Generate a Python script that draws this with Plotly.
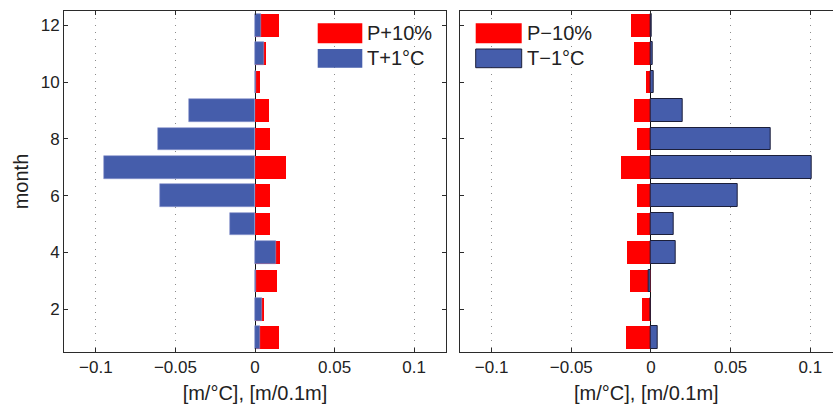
import plotly.graph_objects as go

months = [1, 2, 3, 4, 5, 6, 7, 8, 9, 10, 11, 12]

# Left panel: P+10% and T+1°C
p_plus = [0.0152, 0.0056, 0.0139, 0.0156, 0.0096, 0.0097, 0.0193, 0.0096, 0.0087, 0.0030, 0.0071, 0.0148]
t_plus = [0.0033, 0.0041, 0.0009, 0.0129, -0.0159, -0.0594, -0.0948, -0.0610, -0.0415, 0.0005, 0.0054, 0.0037]

# Right panel: P-10% and T-1°C
p_minus = [-0.0161, -0.0056, -0.0136, -0.0155, -0.0088, -0.0092, -0.0188, -0.0092, -0.0111, -0.0036, -0.0111, -0.0130]
t_minus = [0.0041, -0.0004, -0.0015, 0.0157, 0.0144, 0.0545, 0.1010, 0.0750, 0.0196, 0.0019, 0.0012, 0.0005]

xtick_vals = [-0.1, -0.05, 0, 0.05, 0.1]
xtick_text = ["\u22120.1", "\u22120.05", "0", "0.05", "0.1"]
ytick_vals = [2, 4, 6, 8, 10, 12]

RED = "#ff0000"
BLUE = "#455dab"
EDGE = "#1c1f3a"
AX = "#2b2b2b"
FONT = "Liberation Sans, Arial, Helvetica, sans-serif"

fig = go.Figure()
fig.add_trace(go.Bar(y=months, x=p_plus, orientation="h", width=0.8,
                     marker=dict(color=RED, line=dict(width=0)),
                     xaxis="x", yaxis="y", name="P+10%", showlegend=False))
fig.add_trace(go.Bar(y=months, x=t_plus, orientation="h", width=0.8,
                     marker=dict(color=BLUE, line=dict(width=0.6, color="#8a94cc")),
                     xaxis="x", yaxis="y", name="T+1\u00b0C", showlegend=False))
fig.add_trace(go.Bar(y=months, x=p_minus, orientation="h", width=0.8,
                     marker=dict(color=RED, line=dict(width=0)),
                     xaxis="x2", yaxis="y2", name="P\u221210%", showlegend=False))
fig.add_trace(go.Bar(y=months, x=t_minus, orientation="h", width=0.8,
                     marker=dict(color=BLUE, line=dict(width=1, color=EDGE)),
                     xaxis="x2", yaxis="y2", name="T\u22121\u00b0C", showlegend=False))

W, H = 833, 404
ydom = [1 - 352 / H, 1 - 11 / H]

common_x = dict(
    tickvals=xtick_vals, ticktext=xtick_text, ticks="inside", ticklen=4,
    tickcolor=AX, showline=True, linecolor=AX, linewidth=1,
    showgrid=True, gridcolor="#8c8c8c", gridwidth=1, griddash="1px,6px",
    zeroline=True, zerolinecolor="#111111", zerolinewidth=1,
    tickfont=dict(size=17, color="#222222", family=FONT),
    title=dict(text="[m/\u00b0C], [m/0.1m]", font=dict(size=20, color="#222222", family=FONT), standoff=10),
)
common_y = dict(
    range=[0.5, 12.5], tickvals=ytick_vals, ticks="inside", ticklen=4,
    tickcolor=AX, showline=True, linecolor=AX, linewidth=1, showgrid=False, zeroline=False,
    tickfont=dict(size=17, color="#222222", family=FONT),
)

fig.update_layout(
    width=W, height=H, margin=dict(l=0, r=0, t=0, b=0),
    paper_bgcolor="white", plot_bgcolor="white",
    barmode="overlay", bargap=0,
    font=dict(family=FONT, color="#222222"),
    xaxis=dict(domain=[64 / W, 446 / W], range=[-0.12, 0.12], mirror="ticks", **common_x),
    yaxis=dict(domain=ydom, anchor="x", mirror="ticks",
               title=dict(text="month", font=dict(size=20, color="#222222", family=FONT), standoff=6),
               **common_y),
    xaxis2=dict(domain=[459.7 / W, 1.0], range=[-0.12, 0.1142], anchor="y2", mirror="ticks", **common_x),
    yaxis2=dict(domain=ydom, anchor="x2", mirror=False, showticklabels=False, **common_y),
)

def legend(x0, x1, text_x, red_label, blue_label, blue_edge):
    ry0, ry1 = 1 - 43.3 / H, 1 - 23.3 / H
    by0, by1 = 1 - 67.7 / H, 1 - 49 / H
    fig.add_shape(type="rect", xref="paper", yref="paper", x0=x0 / W, x1=x1 / W, y0=ry0, y1=ry1,
                  fillcolor=RED, line=dict(width=0))
    fig.add_shape(type="rect", xref="paper", yref="paper", x0=x0 / W, x1=x1 / W, y0=by0, y1=by1,
                  fillcolor=BLUE, line=dict(width=1 if blue_edge else 0, color=EDGE))
    for lab, yc in [(red_label, (ry0 + ry1) / 2), (blue_label, (by0 + by1) / 2)]:
        fig.add_annotation(xref="paper", yref="paper", x=text_x / W, y=yc, text=lab,
                           showarrow=False, xanchor="left", yanchor="middle",
                           font=dict(size=20, color="#222222", family=FONT))

legend(317.7, 362.3, 365, "P+10%", "T+1\u00b0C", False)
legend(475.7, 521.7, 525, "P\u221210%", "T\u22121\u00b0C", True)

fig.write_html("out.html")
